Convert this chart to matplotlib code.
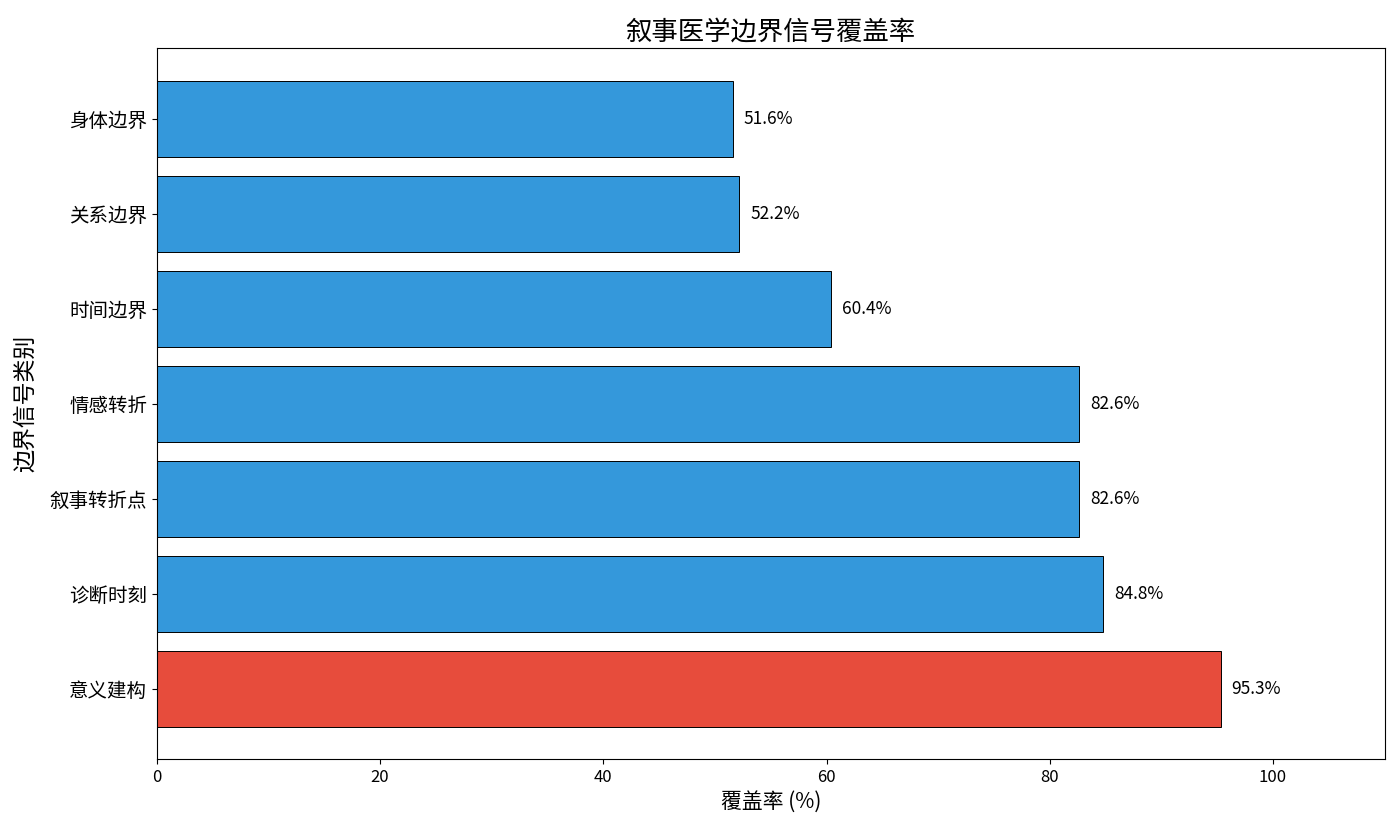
import matplotlib.pyplot as plt

plt.rcParams['font.family'] = ['Noto Sans CJK SC', 'DejaVu Sans']

categories = ['意义建构', '诊断时刻', '叙事转折点', '情感转折', '时间边界', '关系边界', '身体边界']
coverage = [95.3, 84.8, 82.6, 82.6, 60.4, 52.2, 51.6]
colors = ['#e74c3c'] + ['#3498db'] * 6

fig, ax = plt.subplots(figsize=(14, 8.33), dpi=100)
bars = ax.barh(categories, coverage, color=colors, edgecolor='black', linewidth=0.7, height=0.8)

for bar, v in zip(bars, coverage):
    ax.text(bar.get_width() + 1, bar.get_y() + bar.get_height() / 2, f'{v:.1f}%',
            va='center', ha='left', fontsize=12.5)

ax.set_xlim(0, 110)
ax.set_xlabel('覆盖率 (%)', fontsize=15)
ax.set_ylabel('边界信号类别', fontsize=16.5, labelpad=9)
ax.set_title('叙事医学边界信号覆盖率', fontsize=19)
ax.tick_params(axis='y', labelsize=14)
ax.tick_params(axis='x', labelsize=12)

plt.subplots_adjust(left=0.112, right=0.989, top=0.942, bottom=0.089)
plt.savefig('out.png')
